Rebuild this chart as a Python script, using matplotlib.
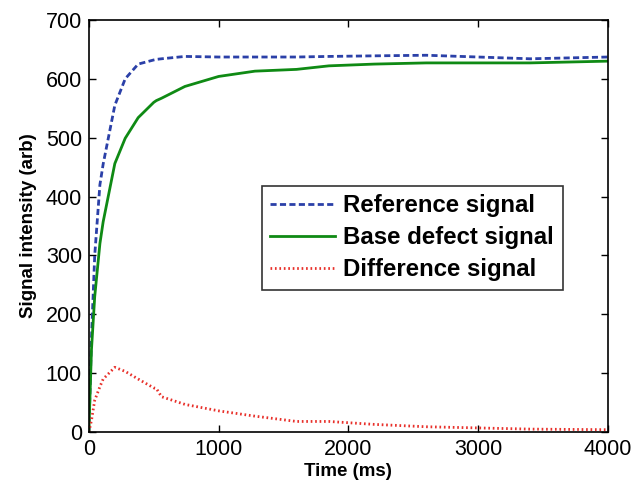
import numpy as np
import matplotlib
matplotlib.use('Agg')
import matplotlib.pyplot as plt

plt.rcParams['font.family'] = ['Liberation Sans', 'DejaVu Sans']

# time samples (ms)
time_ms = [0, 20, 45, 85, 110, 200, 280, 380, 500, 520, 560, 740, 1000, 1280,
           1600, 1850, 2200, 2600, 3000, 3400, 4000]
reference = [0, 160, 300, 420, 455, 555, 600, 625, 632, 633, 634, 638, 637, 637,
             637, 638, 639, 640, 637, 634, 637]
base_defect = [0, 140, 230, 320, 357, 456, 499, 534, 560, 563, 567, 587, 604, 613,
               616, 622, 625, 627, 627, 627, 630]
difference = [0, 20, 54, 77, 90, 110, 103, 90, 75, 74, 60, 47, 36, 27,
              18, 18, 13, 9, 7, 5, 4]

fig = plt.figure(figsize=(6.44, 4.86), dpi=100)
ax = fig.add_axes([0.138, 0.111, 0.806, 0.848])

ax.plot(time_ms, reference, color='#2b40a8', lw=2, ls=(0, (2.2, 1.2)), label='Reference signal')
ax.plot(time_ms, base_defect, color='#0f8a14', lw=2, ls='-', label='Base defect signal')
ax.plot(time_ms, difference, color='#e8302a', lw=2, ls=(0, (0.6, 1.0)), label='Difference signal')

ax.set_xlim(0, 4000)
ax.set_ylim(0, 700)
ax.set_xticks([0, 1000, 2000, 3000, 4000])
ax.set_yticks(np.arange(0, 701, 100))
ax.tick_params(direction='in', top=True, right=True, labelsize=15.5, length=5, width=1, pad=5)
for s in ax.spines.values():
    s.set_linewidth(1.2)

ax.set_xlabel('Time (ms)', fontsize=13.5, fontweight='bold', labelpad=2)
ax.set_ylabel('Signal intensity (arb)', fontsize=13.5, fontweight='bold', labelpad=6)

leg = ax.legend(loc='upper left', bbox_to_anchor=(0.333, 0.598),
                prop={'weight': 'bold', 'size': 17.3}, frameon=True, fancybox=False,
                edgecolor='black', handlelength=2.7, handletextpad=0.35,
                borderpad=0.35, labelspacing=0.38, borderaxespad=0)
leg.get_frame().set_linewidth(1.2)

fig.savefig('out.png', dpi=100)
